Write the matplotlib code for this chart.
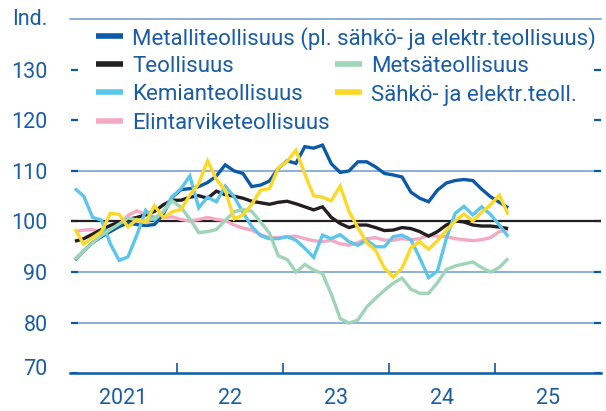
import numpy as np
import pandas as pd
import matplotlib
matplotlib.use('Agg')
import matplotlib.pyplot as plt
from matplotlib.lines import Line2D
import matplotlib.transforms as mtransforms

plt.rcParams['font.family'] = ['Roboto', 'DejaVu Sans']

# ---------------- data ----------------
months = pd.date_range('2021-01-01', '2025-02-01', freq='MS')

metalli = [92.4, 94.2, 95.8, 97.0, 98.0, 99.0, 99.7, 99.4, 99.2, 99.4,
           101.5, 104.8, 106.3, 106.5, 106.9, 107.7, 109.0, 111.2, 110.0, 109.5,
           106.9, 107.2, 108.0, 110.5, 112.0, 111.5, 114.8, 114.5, 115.1, 111.4,
           109.7, 110.0, 111.8, 111.8, 110.8, 109.5, 109.2, 108.8, 105.8, 104.6,
           103.9, 106.2, 107.6, 108.1, 108.3, 108.1, 106.4, 104.9, 103.8, 102.7]
teollisuus = [96.1, 96.6, 97.5, 98.4, 99.2, 99.9, 100.4, 100.8, 101.3, 102.0,
              103.3, 104.2, 104.2, 104.8, 105.1, 104.6, 106.0, 105.3, 105.0, 104.6,
              104.0, 103.7, 103.4, 103.8, 104.0, 103.5, 102.9, 102.3, 102.9, 100.8,
              99.6, 98.8, 99.3, 99.3, 98.8, 98.2, 98.3, 98.8, 98.6, 98.0,
              97.1, 98.0, 99.3, 100.1, 99.9, 99.3, 99.1, 99.1, 98.9, 98.6]
kemia = [106.5, 105.0, 100.8, 100.3, 95.6, 92.3, 93.0, 97.3, 102.2, 100.3,
         101.9, 104.9, 106.5, 109.0, 102.7, 104.8, 103.9, 107.0, 104.9, 101.8,
         99.0, 97.2, 96.6, 96.6, 97.0, 96.3, 94.7, 92.9, 97.3, 96.6,
         97.4, 96.0, 95.3, 96.3, 95.0, 95.0, 97.0, 97.3, 96.4, 92.8,
         88.9, 90.2, 96.6, 101.6, 103.0, 101.3, 102.9, 101.4, 99.3, 97.0]
elintarvike = [98.0, 98.3, 98.4, 98.0, 98.3, 99.3, 101.2, 102.1, 101.4, 100.9,
               100.8, 100.9, 100.4, 100.1, 100.4, 100.8, 100.4, 100.2, 99.3, 98.7,
               98.3, 97.4, 96.8, 96.8, 97.0, 97.1, 96.6, 96.2, 96.0, 96.3,
               95.6, 95.3, 95.8, 96.6, 96.8, 96.3, 96.3, 96.6, 96.4, 96.6,
               97.3, 97.1, 97.0, 96.6, 96.4, 96.2, 96.4, 96.8, 98.0, 98.4]
metsa = [92.5, 94.2, 95.8, 97.2, 98.4, 99.5, 100.7, 100.3, 100.1, 100.6,
         102.0, 104.1, 102.8, 100.5, 97.8, 98.0, 98.4, 100.2, 101.9, 102.4,
         102.0, 99.9, 97.7, 93.2, 92.5, 90.0, 91.5, 90.4, 89.7, 85.6,
         80.8, 79.9, 80.5, 83.1, 84.8, 86.4, 87.8, 88.8, 86.6, 85.8,
         85.8, 87.9, 90.5, 91.2, 91.6, 92.0, 90.9, 90.0, 90.9, 92.7]
sahko = [98.5, 95.5, 96.8, 98.0, 101.6, 101.4, 98.9, 100.4, 99.8, 103.1,
         100.8, 101.9, 102.4, 105.2, 107.5, 112.0, 108.3, 106.2, 100.5, 101.3,
         103.4, 106.2, 106.5, 110.6, 111.9, 114.1, 109.4, 105.1, 104.8, 104.1,
         107.0, 102.0, 98.8, 95.8, 94.3, 90.8, 89.0, 90.8, 94.8, 96.0,
         94.5, 96.2, 98.2, 100.1, 101.5, 100.1, 101.8, 103.3, 105.2, 101.4]

year_labels = ['2021', '22', '23', '24', '25']
yticks = [70, 80, 90, 100, 110, 120, 130]

labels = {
    'metalli': 'Metalliteollisuus (pl. sähkö- ja elektr.teollisuus)',
    'teollisuus': 'Teollisuus',
    'kemia': 'Kemianteollisuus',
    'elintarvike': 'Elintarviketeollisuus',
    'metsa': 'Metsäteollisuus',
    'sahko': 'Sähkö- ja elektr.teoll.',
}

# ---------------- style ----------------
TXT = '#1a5da6'
DBLUE = '#0b5aa8'
GRID = '#6c9ad0'
C = {
    'metalli': '#0b5aa8',
    'teollisuus': '#231f20',
    'kemia': '#5ac6ec',
    'elintarvike': '#f4a9c3',
    'metsa': '#9dd5b6',
    'sahko': '#fdd824',
}
series = {'metalli': metalli, 'teollisuus': teollisuus, 'kemia': kemia,
          'elintarvike': elintarvike, 'metsa': metsa, 'sahko': sahko}

W, H = 606, 411
fig = plt.figure(figsize=(W / 100, H / 100), dpi=100)
L, R, B, T = 70.5, 601.0, 373.2, 19.2
ax = fig.add_axes([L / W, 1 - B / H, (R - L) / W, (B - T) / H])

t = months.year + (months.month - 0.5) / 12.0

ax.set_xlim(2021, 2026)
ax.set_ylim(70, 140)

# grid lines
for g in [80, 90, 110]:
    ax.axhline(g, color=GRID, lw=1.1, zorder=1)
ax.axhline(100, color='#231f20', lw=1.6, zorder=3)

order = ['elintarvike', 'metalli', 'teollisuus', 'kemia', 'metsa', 'sahko']
for i, k in enumerate(order):
    ax.plot(t, series[k], color=C[k], lw=2.4, zorder=4 + i,
            solid_joinstyle='miter', solid_capstyle='butt')

# spines
for s in ['left', 'right']:
    ax.spines[s].set_visible(False)
ax.spines['top'].set_color(GRID)
ax.spines['top'].set_linewidth(1.1)
ax.spines['bottom'].set_color(DBLUE)
ax.spines['bottom'].set_linewidth(1.8)

# y ticks
ax.set_yticks(yticks)
ax.tick_params(axis='y', which='major', direction='in', length=5.2, width=1.6,
               color=DBLUE, left=True, right=True, labelleft=True,
               labelright=False, labelsize=15.5, labelcolor=TXT, pad=16.5)
# the bottom label sits slightly above the axis line in the reference
lab70 = ax.get_yticklabels()[0]
lab70.set_transform(lab70.get_transform() +
                    mtransforms.ScaledTranslation(0, 6 / 100, fig.dpi_scale_trans))

# x ticks: boundaries (major, no label), mid-year labels (minor)
ax.set_xticks([2022, 2023, 2024, 2025])
ax.set_xticklabels([])
ax.set_xticks([2021.5 + i for i in range(5)], minor=True)
ax.set_xticklabels(year_labels, minor=True)
ax.tick_params(axis='x', which='major', direction='in', length=7.5, width=1.2,
               color=DBLUE)
ax.tick_params(axis='x', which='minor', length=0, labelsize=15.5,
               labelcolor=TXT, pad=11)

fig.text(48 / W, 1 - T / H, 'Ind.', ha='right', va='center', fontsize=15.5,
         color=TXT)

# manual legend
def leg(x1, x2, y, key):
    fig.add_artist(Line2D([x1 / W, x2 / W], [1 - y / H, 1 - y / H],
                          transform=fig.transFigure, color=C[key], lw=4.0,
                          solid_capstyle='butt'))
    fig.text((x2 + 9) / W, 1 - y / H, labels[key], ha='left',
             va='center_baseline', fontsize=16, color=TXT)

rows = [35.7, 64.0, 92.5, 121.0]
leg(96, 123, rows[0], 'metalli')
leg(96, 123, rows[1], 'teollisuus')
leg(96, 123, rows[2], 'kemia')
leg(96, 123, rows[3], 'elintarvike')
leg(335, 362, rows[1], 'metsa')
leg(335, 362, rows[2], 'sahko')

fig.savefig('out.png', dpi=100)
